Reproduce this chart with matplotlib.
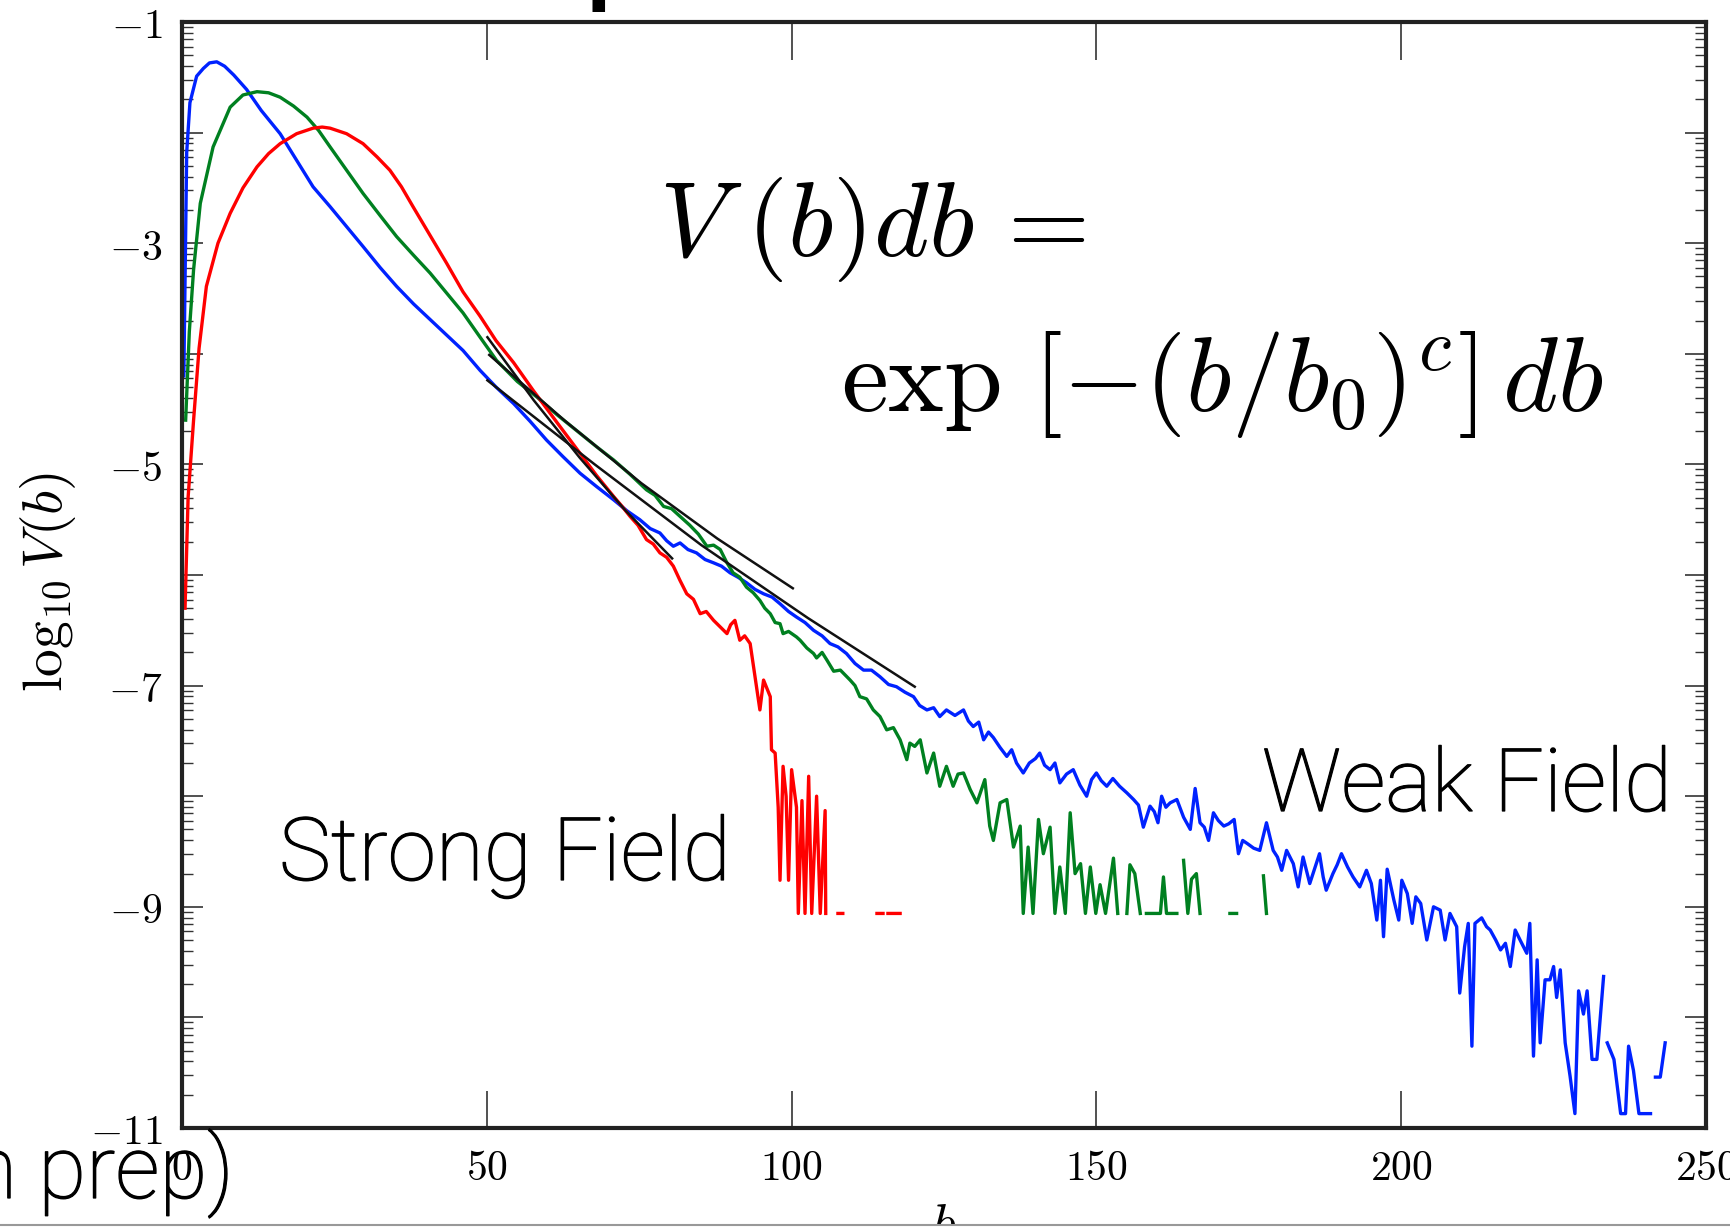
import numpy as np
import matplotlib
matplotlib.use("Agg")
import matplotlib.pyplot as plt
import matplotlib.patheffects as pe
from matplotlib.ticker import FixedLocator, FuncFormatter
from matplotlib.patches import Rectangle
from matplotlib.lines import Line2D

plt.rcParams['mathtext.fontset'] = 'cm'
nan = np.nan

# ---------------- data (log10 V(b) vs b) ----------------
blue_b = [0.3, 0.77, 1.3, 2.4, 3.5, 4.5, 5.7, 7.0, 8.5, 10.6, 13.0, 16.1, 18.8, 21.5, 24.3, 27.0, 29.7,
          32.5, 35.2, 38.0, 40.7, 43.4, 46.1, 48.9, 51.5, 54.4, 57.1, 59.8, 62.5, 65.3, 68.0, 70.8, 73.0,
          75.1, 76.8, 78.4, 79.5, 80.6, 81.7, 83.0, 84.4, 85.8, 87.2, 88.5, 89.9, 91.2, 92.6, 94.0, 95.4,
          96.8, 98.1, 99.5, 100.8, 102.2, 103.6, 105.0, 106.3, 107.6, 109.0, 110.4, 111.8, 113.1, 114.5,
          115.9, 117.2, 118.6, 120.0, 121.0, 122.2, 123.3, 124.3, 125.4, 126.8, 128.2, 129.0, 129.8, 130.7,
          131.5, 132.3, 133.1, 134.2, 135.3, 136.1, 136.9, 138.0, 139.0, 140.0, 140.7, 141.5, 142.4, 143.2,
          144.0, 145.1, 146.2, 147.3, 148.4, 149.2, 150.0, 150.8, 151.7, 152.7, 153.8, 155.0, 156.1, 156.9,
          157.7, 158.8, 159.5, 160.1, 160.7, 161.4, 162.1, 163.2, 164.3, 165.4, 166.2, 167.0, 167.7, 168.4,
          169.2, 170.0, 170.9, 171.7, 172.6, 173.3, 174.0, 174.8, 175.8, 176.8, 177.9, 179.0, 179.7, 180.4,
          181.2, 182.3, 183.1, 183.9, 185.0, 186.6, 187.2, 187.7, 188.8, 189.5, 190.2, 191.2, 192.1, 193.2,
          194.3, 195.1, 196.0, 196.6, 197.1, 197.7, 198.8, 199.6, 200.1, 201.0, 201.8, 202.4, 203.2, 204.2,
          205.3, 206.4, 207.2, 208.0, 209.1, 209.6, 210.4, 211.0, 211.6, 212.1, 213.2, 214.0, 214.6, 215.5,
          216.3, 217.1, 217.9, 218.7, 219.5, 220.6, 221.1, 221.7, 222.3, 222.8, 223.6, 224.4, 225.0, 225.5,
          226.1, 226.9, 227.7, 228.5, 229.1, 229.9, 230.5, 231.3, 232.1, 233.2, 233.5, 233.8, 234.9, 236.0,
          236.8, 237.3, 238.1, 239.0, 240.9, 241.3, 241.7, 242.5, 243.3]
blue_v = [-4.2, -2.18, -1.73, -1.49, -1.42, -1.37, -1.36, -1.40, -1.48, -1.61, -1.80, -2.01, -2.25, -2.49,
          -2.67, -2.85, -3.03, -3.22, -3.39, -3.55, -3.69, -3.83, -3.97, -4.15, -4.30, -4.45, -4.61, -4.78,
          -4.93, -5.08, -5.20, -5.32, -5.42, -5.50, -5.58, -5.62, -5.69, -5.74, -5.71, -5.77, -5.80, -5.86,
          -5.89, -5.92, -5.98, -6.02, -6.07, -6.13, -6.17, -6.20, -6.26, -6.33, -6.38, -6.43, -6.50, -6.55,
          -6.62, -6.65, -6.71, -6.80, -6.86, -6.86, -6.92, -6.99, -7.01, -7.06, -7.10, -7.18, -7.22, -7.20,
          -7.28, -7.22, -7.27, -7.22, -7.32, -7.37, -7.33, -7.49, -7.42, -7.47, -7.56, -7.64, -7.58, -7.70,
          -7.79, -7.70, -7.66, -7.61, -7.72, -7.76, -7.70, -7.88, -7.80, -7.76, -7.90, -8.00, -7.85, -7.79,
          -7.86, -7.91, -7.84, -7.91, -7.97, -8.03, -8.08, -8.28, -8.09, -8.14, -8.24, -8.00, -8.10, -8.06,
          -8.03, -8.19, -8.30, -7.93, -8.24, -8.28, -8.40, -8.15, -8.22, -8.27, -8.25, -8.21, -8.52, -8.40,
          -8.43, -8.47, -8.49, -8.24, -8.49, -8.55, -8.67, -8.49, -8.61, -8.82, -8.55, -8.79, -8.52, -8.73,
          -8.85, -8.70, -8.62, -8.52, -8.64, -8.73, -8.82, -8.67, -8.79, -9.12, -8.76, -9.27, -8.66, -8.94,
          -9.12, -8.76, -8.88, -9.15, -8.91, -8.97, -9.30, -9.00, -9.03, -9.30, -9.06, -9.18, -9.78, -9.36,
          -9.15, -10.26, -9.15, -9.10, -9.18, -9.21, -9.30, -9.39, -9.33, -9.54, -9.21, -9.30, -9.42, -9.15,
          -10.35, -9.48, -10.23, -9.66, -9.66, -9.54, -9.82, -9.57, -10.23, -10.53, -10.87, -9.76, -9.97,
          -9.76, -10.38, -10.38, -9.63, nan, -10.23, -10.38, -10.87, -10.87, -10.26, -10.48, -10.87, -10.87,
          nan, -10.54, -10.54, -10.23]

green_b = [0.6, 1.2, 1.9, 3.0, 5.1, 7.9, 10.0, 12.3, 14.2, 16.1, 18.3, 20.5, 22.4, 24.3, 27.0, 29.7, 32.5,
           35.2, 38.0, 40.7, 43.4, 46.1, 48.9, 51.6, 55.0, 58.2, 61.5, 65.3, 68.0, 70.8, 73.5, 76.2, 77.6,
           79.0, 80.3, 81.7, 83.3, 84.7, 86.1, 87.2, 88.3, 89.3, 90.4, 91.5, 92.6, 93.7, 94.8, 95.6, 96.5,
           97.3, 98.1, 98.6, 99.5, 100.8, 101.4, 102.5, 103.6, 104.1, 105.0, 105.8, 106.9, 108.0, 109.6,
           110.4, 111.2, 112.3, 113.4, 114.5, 115.6, 116.7, 117.8, 118.9, 119.4, 120.2, 121.1, 122.2, 123.3,
           124.3, 125.4, 126.5, 127.3, 128.2, 129.3, 130.4, 131.7, 132.5, 133.1, 134.2, 135.3, 136.4, 137.5,
           138.0, 138.8, 139.6, 140.5, 141.3, 142.4, 143.2, 144.0, 144.9, 145.7, 146.5, 147.4, 148.2, 149.0,
           149.9, 150.6, 151.5, 152.8, 153.5, 154.4, 155.0, 155.5, 156.3, 157.2, 157.6, 158.2, 159.9, 160.5,
           161.0, 161.5, 163.2, 163.7, 164.3, 165.0, 165.6, 166.4, 167.0, 167.5, 171.9, 173.0, 173.5, 177.4,
           177.9]
green_v = [-4.6, -3.8, -3.24, -2.64, -2.13, -1.77, -1.66, -1.63, -1.64, -1.68, -1.76, -1.86, -1.98, -2.13,
           -2.34, -2.55, -2.75, -2.94, -3.11, -3.27, -3.45, -3.63, -3.85, -4.06, -4.25, -4.39, -4.55, -4.72,
           -4.84, -4.96, -5.09, -5.23, -5.28, -5.38, -5.40, -5.47, -5.55, -5.63, -5.74, -5.73, -5.77, -5.88,
           -5.98, -6.02, -6.11, -6.16, -6.23, -6.30, -6.35, -6.43, -6.44, -6.53, -6.51, -6.56, -6.59, -6.66,
           -6.71, -6.75, -6.70, -6.77, -6.87, -6.86, -6.95, -7.00, -7.10, -7.12, -7.22, -7.28, -7.40, -7.38,
           -7.49, -7.67, -7.52, -7.55, -7.49, -7.79, -7.61, -7.91, -7.73, -7.91, -7.80, -7.79, -7.94, -8.06,
           -7.85, -8.27, -8.40, -8.06, -8.03, -8.46, -8.27, -9.06, -8.46, -9.06, -8.21, -8.52, -8.28, -9.06,
           -8.64, -9.06, -8.15, -8.70, -8.61, -9.06, -8.64, -9.06, -8.80, -9.06, -8.56, -9.06, nan, -9.06,
           -8.62, -8.70, -9.06, nan, -9.06, -9.06, -9.06, -8.73, -9.06, -9.06, nan, -8.58, -9.06, -8.75,
           -8.70, -9.06, nan, -9.06, -9.06, nan, -8.72, -9.06]

red_b = [0.5, 1.0, 1.9, 2.8, 4.0, 5.9, 7.9, 10.0, 12.3, 14.2, 16.1, 18.8, 21.5, 23.0, 24.3, 27.0, 29.7,
         32.0, 34.1, 36.0, 37.9, 40.7, 43.4, 46.1, 48.9, 51.5, 54.4, 57.6, 61.5, 65.3, 68.0, 70.8, 72.2,
         73.5, 74.8, 76.2, 77.3, 78.4, 79.5, 80.6, 81.7, 82.8, 83.9, 85.0, 86.0, 87.2, 88.3, 89.4, 90.0,
         90.7, 91.5, 92.3, 93.2, 94.0, 94.8, 95.4, 96.5, 96.7, 97.3, 97.8, 98.1, 98.6, 99.1, 99.5, 100.0,
         100.8, 101.1, 101.7, 102.2, 102.8, 103.3, 104.1, 104.7, 105.5, 105.6, 106.0, 107.6, 108.4, 109.0,
         114.0, 115.0, 115.4, 115.8, 117.8]
red_v = [-6.3, -5.3, -4.6, -3.95, -3.39, -3.0, -2.73, -2.50, -2.31, -2.19, -2.10, -2.01, -1.96, -1.95, -1.96,
         -2.01, -2.10, -2.22, -2.34, -2.49, -2.67, -2.93, -3.18, -3.44, -3.66, -3.88, -4.08, -4.33, -4.62,
         -4.90, -5.10, -5.29, -5.38, -5.47, -5.55, -5.68, -5.72, -5.80, -5.84, -5.92, -6.05, -6.17, -6.22,
         -6.35, -6.33, -6.41, -6.47, -6.53, -6.45, -6.41, -6.59, -6.55, -6.62, -6.92, -7.22, -6.95, -7.10,
         -7.58, -7.61, -8.10, -8.76, -7.73, -8.00, -8.76, -7.76, -8.10, -9.06, -8.04, -9.06, -7.82, -9.06,
         -8.00, -9.06, -8.13, -9.06, nan, -9.06, -9.06, nan, -9.06, -9.06, nan, -9.06, -9.06]

# stretched-exponential fits
fit_red_b = [50.1, 57.7, 65.25, 72.8, 80.4]
fit_red_v = [-3.85, -4.42, -4.94, -5.42, -5.85]
fit_green_b = [50.4, 62.9, 75.35, 87.8, 100.2]
fit_green_v = [-4.01, -4.61, -5.17, -5.67, -6.12]
fit_blue_b = [50.1, 67.7, 85.2, 102.7, 120.2]
fit_blue_v = [-4.24, -5.00, -5.73, -6.39, -7.01]

x_ticks = [0, 50, 100, 150, 200, 250]
y_major = list(range(-11, 0))
y_labelled = [-11, -9, -7, -5, -3, -1]

# ---------------- figure ----------------
W, H = 1731, 1229
fig = plt.figure(figsize=(W / 100, H / 100), dpi=100)
ax = fig.add_axes([182 / W, 1 - 1128 / H, 1524 / W, 1106 / H])

lw = 2.4
ax.plot(blue_b, blue_v, color='#0022ff', lw=lw, zorder=2)
ax.plot(green_b, green_v, color='#008020', lw=lw, zorder=2)
ax.plot(red_b, red_v, color='#ff0000', lw=lw, zorder=2)
for fb, fv in [(fit_red_b, fit_red_v), (fit_green_b, fit_green_v), (fit_blue_b, fit_blue_v)]:
    ax.plot(fb, fv, color='#111111', lw=1.8, zorder=3)

ax.set_xlim(0, 250)
ax.set_ylim(-11, -1)

ax.xaxis.set_major_locator(FixedLocator(x_ticks))
ax.xaxis.set_major_formatter(FuncFormatter(lambda v, p: r'$%d$' % v))
ax.yaxis.set_major_locator(FixedLocator(y_major))
ax.yaxis.set_major_formatter(FuncFormatter(
    lambda v, p: (r'$-%d$' % abs(round(v))) if round(v) in y_labelled else ''))
minor = [n + np.log10(k) for n in range(-11, -1) for k in range(2, 10)]
ax.yaxis.set_minor_locator(FixedLocator(minor))

ax.tick_params(axis='x', which='major', direction='in', length=27, width=1.1,
               top=True, bottom=True, labelsize=30, pad=14, color='#222222')
ax.tick_params(axis='y', which='major', direction='in', length=15, width=1.1,
               left=True, right=True, labelsize=30, pad=14, color='#222222')
ax.tick_params(axis='y', which='minor', direction='in', length=8, width=1.0,
               left=True, right=True, color='#333333')
for s in ax.spines.values():
    s.set_linewidth(3.0)
    s.set_color('#222222')

ax.set_xlabel(r'$b$', fontsize=38)
ax.xaxis.set_label_coords(0.5, -0.064)
ax.set_ylabel(r'$\log_{10}V(b)$', fontsize=40)
ax.yaxis.set_label_coords(-0.068, 0.494)

# equation
fig.text(659 / W, 1 - 256 / H, r'$V\;(b)db\,=$', fontsize=76, ha='left', va='baseline')
fig.text(841 / W, 1 - 411 / H, r'$\exp\,\left[-(b/b_0)^c\right]\,db$', fontsize=76,
         ha='left', va='baseline')

thick = [pe.withStroke(linewidth=0.9, foreground='black')]
lab = dict(family=['Roboto', 'DejaVu Sans'], fontweight='light', fontsize=63,
           path_effects=thick)
fig.text(279 / W, 1 - 880 / H, 'Strong Field', ha='left', va='baseline', **lab)
fig.text(1262 / W, 1 - 811 / H, 'Weak Field', ha='left', va='baseline', **lab)
fig.text(234 / W, 1 - 1198 / H, '(in prep)', ha='right', va='baseline', **lab)
fig.text(583 / W, 1 + 16 / H, 'p', ha='left', va='baseline',
         family=['Roboto', 'DejaVu Sans'], fontsize=100)

# slide border at the bottom
fig.add_artist(Rectangle((0, 0), 1, 4 / H, transform=fig.transFigure,
                         facecolor='white', edgecolor='none', zorder=10))
fig.add_artist(Line2D([0, 1], [4.5 / H, 4.5 / H], transform=fig.transFigure,
                      color='#999999', lw=1.5, zorder=11))

fig.savefig('out.png', dpi=100)
